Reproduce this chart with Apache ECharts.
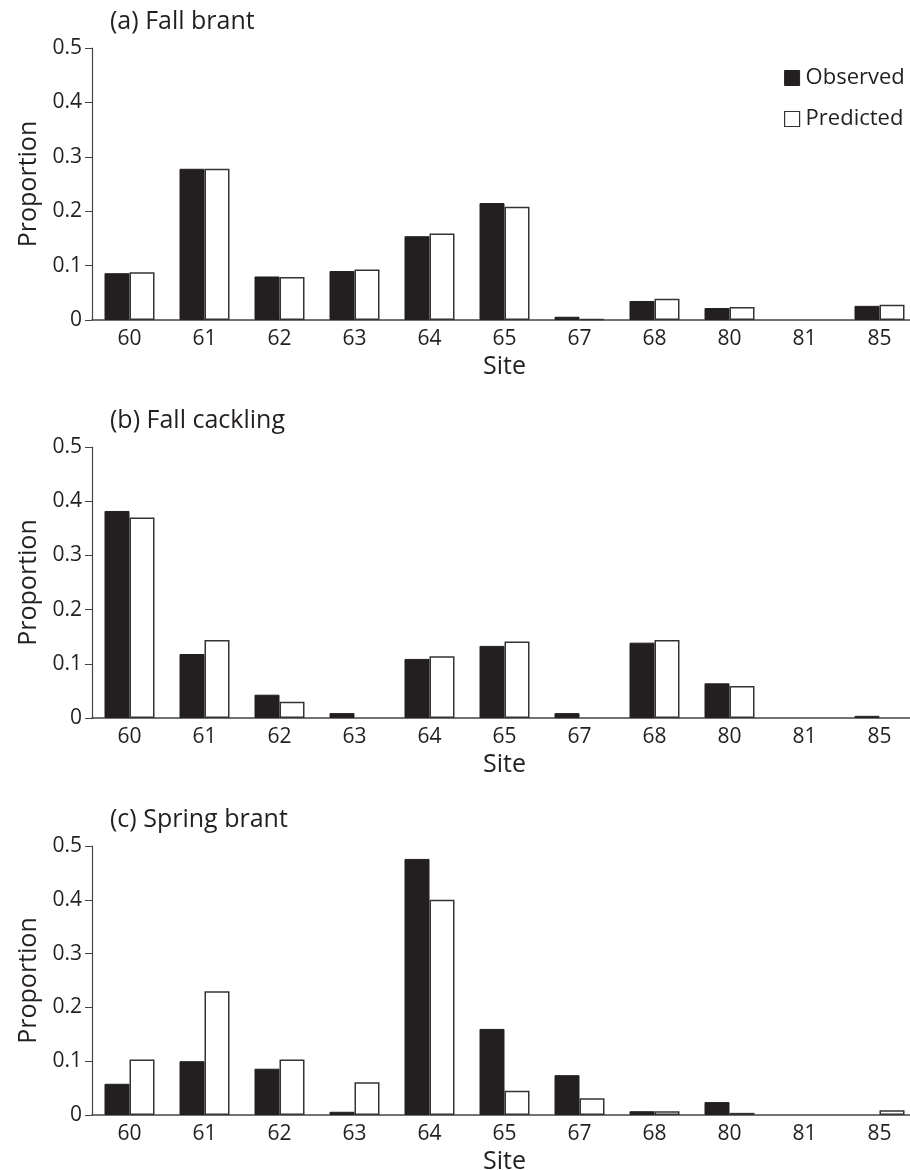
<!DOCTYPE html>
<html>
<head>
<meta charset="utf-8">
<script src="https://cdn.jsdelivr.net/npm/echarts@6/dist/echarts.min.js"></script>
<style>
  html, body { margin: 0; padding: 0; background: #fff; }
  #chart { width: 910px; height: 1170px; }
</style>
</head>
<body>
<div id="chart"></div>
<script>
'use strict';

var sites = ['60', '61', '62', '63', '64', '65', '67', '68', '80', '81', '85'];
var yTicks = [0, 0.1, 0.2, 0.3, 0.4, 0.5];

// (a) Fall brant
var fallBrantObserved  = [0.086, 0.278, 0.080, 0.090, 0.154, 0.215, 0.006, 0.035, 0.022, 0, 0.026];
var fallBrantPredicted = [0.088, 0.278, 0.079, 0.093, 0.159, 0.208, 0.002, 0.039, 0.024, 0, 0.028];

// (b) Fall cackling
var fallCacklingObserved  = [0.382, 0.118, 0.043, 0.009, 0.109, 0.133, 0.009, 0.139, 0.064, 0, 0.004];
var fallCacklingPredicted = [0.370, 0.144, 0.030, 0, 0.114, 0.141, 0, 0.144, 0.059, 0, 0];

// (c) Spring brant
var springBrantObserved  = [0.058, 0.100, 0.086, 0.006, 0.476, 0.160, 0.074, 0.007, 0.024, 0, 0];
var springBrantPredicted = [0.103, 0.230, 0.103, 0.061, 0.400, 0.045, 0.031, 0.007, 0.004, 0, 0.009];

var panels = [
  { title: '(a) Fall brant', obs: fallBrantObserved, pred: fallBrantPredicted, top: 48, height: 272 },
  { title: '(b) Fall cackling', obs: fallCacklingObserved, pred: fallCacklingPredicted, top: 447, height: 271 },
  { title: '(c) Spring brant', obs: springBrantObserved, pred: springBrantPredicted, top: 846, height: 269 }
];

var font = '"Open Sans", "Noto Sans", sans-serif',
    ink = '#231f20',
    lineColor = '#444';

// zero proportions draw nothing (no border sliver on the axis)
function barData(values) {
  return values.map(function (v) {
    return v === 0 ? { value: 0, itemStyle: { borderWidth: 0, opacity: 0 } } : v;
  });
}

var chart = echarts.init(document.getElementById('chart'), null, { renderer: 'canvas' });

var titles = [], grids = [], xAxes = [], yAxes = [], series = [];

panels.forEach(function (p, i) {
  titles.push({
    text: p.title,
    left: 105,
    top: p.top - 44,
    textStyle: { fontFamily: font, fontSize: 25, fontWeight: 'normal', color: ink }
  });

  // plot runs a little past the right edge, as in the original figure
  grids.push({
    left: 92, width: 825, top: p.top, height: p.height,
    containLabel: false,
    outerBoundsMode: 'none'
  });

  xAxes.push({
    type: 'category',
    gridIndex: i,
    data: sites,
    name: 'Site',
    nameLocation: 'middle',
    nameGap: 34,
    nameTextStyle: { fontFamily: font, fontSize: 25, color: ink },
    axisLine: { lineStyle: { color: lineColor, width: 1.5 } },
    axisTick: { show: false },
    axisLabel: { fontFamily: font, fontSize: 21, color: ink, margin: 9 }
  });

  yAxes.push({
    type: 'value',
    gridIndex: i,
    min: 0,
    max: 0.5,
    interval: 0.1,
    name: 'Proportion',
    nameLocation: 'middle',
    nameGap: 51,
    nameTextStyle: { fontFamily: font, fontSize: 25, color: ink },
    axisLine: { show: true, lineStyle: { color: lineColor, width: 1.2 } },
    axisTick: { show: true, inside: false, length: 7, lineStyle: { color: lineColor } },
    axisLabel: {
      fontFamily: font, fontSize: 21, color: ink, margin: 10,
      formatter: function (v) {
        for (var k = 0; k < yTicks.length; k++) {
          if (Math.abs(v - yTicks[k]) < 1e-9) return String(yTicks[k]);
        }
        return '';
      }
    },
    splitLine: { show: false }
  });

  series.push({
    name: 'Observed',
    type: 'bar',
    xAxisIndex: i,
    yAxisIndex: i,
    data: barData(p.obs),
    barWidth: 25,
    barGap: '0%',
    itemStyle: { color: ink, borderColor: ink, borderWidth: 1 },
    silent: true
  });
  series.push({
    name: 'Predicted',
    type: 'bar',
    xAxisIndex: i,
    yAxisIndex: i,
    data: barData(p.pred),
    barWidth: 25,
    barGap: '0%',
    itemStyle: { color: '#fff', borderColor: '#333', borderWidth: 1.5 },
    silent: true
  });
});

chart.setOption({
  animation: false,
  backgroundColor: '#fff',
  title: titles,
  legend: {
    data: [
      { name: 'Observed', itemStyle: { color: ink, borderColor: ink, borderWidth: 1 } },
      { name: 'Predicted', itemStyle: { color: '#fff', borderColor: '#333', borderWidth: 1.2 } }
    ],
    orient: 'vertical',
    left: 779,
    top: 62,
    icon: 'rect',
    itemWidth: 15,
    itemHeight: 15,
    itemGap: 19,
    selectedMode: false,
    textStyle: { fontFamily: font, fontSize: 22, color: ink, padding: [0, 0, 0, 1] }
  },
  grid: grids,
  xAxis: xAxes,
  yAxis: yAxes,
  series: series
});
</script>
</body>
</html>
